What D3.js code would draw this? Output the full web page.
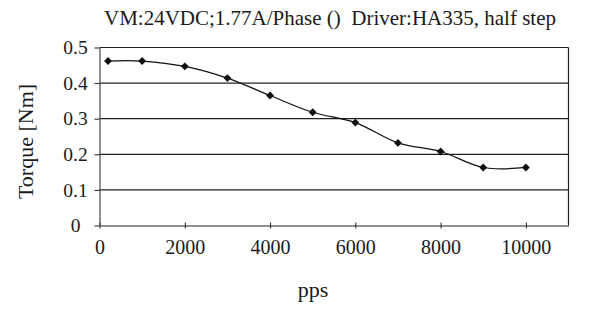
<!DOCTYPE html>
<html>
<head>
<meta charset="utf-8">
<script src="https://cdn.jsdelivr.net/npm/d3@7"></script>
<style>
  html, body { margin: 0; padding: 0; background: #fff; }
  svg { display: block; }
  text { font-family: "Liberation Serif", "Times New Roman", serif; fill: #1a1a1a; }
</style>
</head>
<body>
<svg id="chart" width="608" height="329"></svg>
<script>
// Speed (pulses per second) and measured torque
const speeds = [200, 1000, 2000, 3000, 4000, 5000, 6000, 7000, 8000, 9000, 10000];
const torque = [0.462, 0.462, 0.447, 0.414, 0.365, 0.318, 0.289, 0.232, 0.208, 0.163, 0.163];
const xTicks = [0, 2000, 4000, 6000, 8000, 10000];
const yTicks = [0, 0.1, 0.2, 0.3, 0.4, 0.5];
const title = "VM:24VDC;1.77A/Phase ()  Driver:HA335, half step";
const xLabel = "pps";
const yLabel = "Torque [Nm]";

const svg = d3.select("#chart");
const plot = { left: 99.5, right: 568.5, top: 47.5, bottom: 225.5 };

const x = d3.scaleLinear().domain([0, 11000]).range([plot.left, plot.right]);
const y = d3.scaleLinear().domain([0, 0.5]).range([plot.bottom, plot.top]);

// Horizontal gridlines
svg.append("g")
  .selectAll("line")
  .data(yTicks.filter(d => d > 0))
  .join("line")
  .attr("x1", plot.left).attr("x2", plot.right)
  .attr("y1", d => y(d)).attr("y2", d => y(d))
  .attr("stroke", "#222").attr("stroke-width", 1.2);

// Right border of plot area
svg.append("line")
  .attr("x1", plot.right).attr("x2", plot.right)
  .attr("y1", plot.top).attr("y2", plot.bottom)
  .attr("stroke", "#222").attr("stroke-width", 1.2);

// X axis
const xAxis = svg.append("g")
  .attr("transform", `translate(0,${plot.bottom})`)
  .call(d3.axisBottom(x).tickValues(xTicks).tickSize(5).tickSizeOuter(0).tickFormat(d3.format("d")));
xAxis.select(".domain").attr("stroke", "#222").attr("stroke-width", 1.2);
xAxis.selectAll(".tick line").attr("stroke", "#222").attr("y1", -3).attr("y2", 3);
xAxis.selectAll(".tick text")
  .attr("y", 28.5)
  .attr("dy", 0)
  .style("font-size", "20px")
  .style("font-family", "Liberation Serif");

// Y axis
const yAxis = svg.append("g")
  .attr("transform", `translate(${plot.left},0)`)
  .call(d3.axisLeft(y).tickValues(yTicks).tickSize(5).tickSizeOuter(0).tickFormat(d => d === 0 ? "0" : d3.format(".1f")(d)));
yAxis.select(".domain").attr("stroke", "#444").attr("stroke-width", 1.2);
yAxis.selectAll(".tick line").attr("stroke", "#222");
yAxis.selectAll(".tick text")
  .attr("x", -24)
  .attr("text-anchor", "middle")
  .style("font-size", "19.5px")
  .style("font-family", "Liberation Serif");

// Smoothed data line
const line = d3.line()
  .x((d, i) => x(speeds[i]))
  .y(d => y(d))
  .curve(d3.curveCatmullRom.alpha(0));
svg.append("path")
  .datum(torque)
  .attr("d", line)
  .attr("fill", "none")
  .attr("stroke", "#111")
  .attr("stroke-width", 1.2);

// Diamond markers
const diamond = d3.symbol().type(d3.symbolDiamond2).size(40);
svg.append("g")
  .selectAll("path")
  .data(torque)
  .join("path")
  .attr("transform", (d, i) => `translate(${x(speeds[i])},${y(d)})`)
  .attr("d", diamond)
  .attr("fill", "#111");

// Title and axis labels
svg.append("text")
  .attr("x", 330).attr("y", 25)
  .attr("text-anchor", "middle")
  .style("font-size", "21px")
  .style("white-space", "pre")
  .text(title);

svg.append("text")
  .attr("x", 313).attr("y", 297)
  .attr("text-anchor", "middle")
  .style("font-size", "22px")
  .text(xLabel);

svg.append("text")
  .attr("transform", "translate(33,141.5) rotate(-90)")
  .attr("text-anchor", "middle")
  .style("font-size", "22px")
  .text(yLabel);
</script>
</body>
</html>
